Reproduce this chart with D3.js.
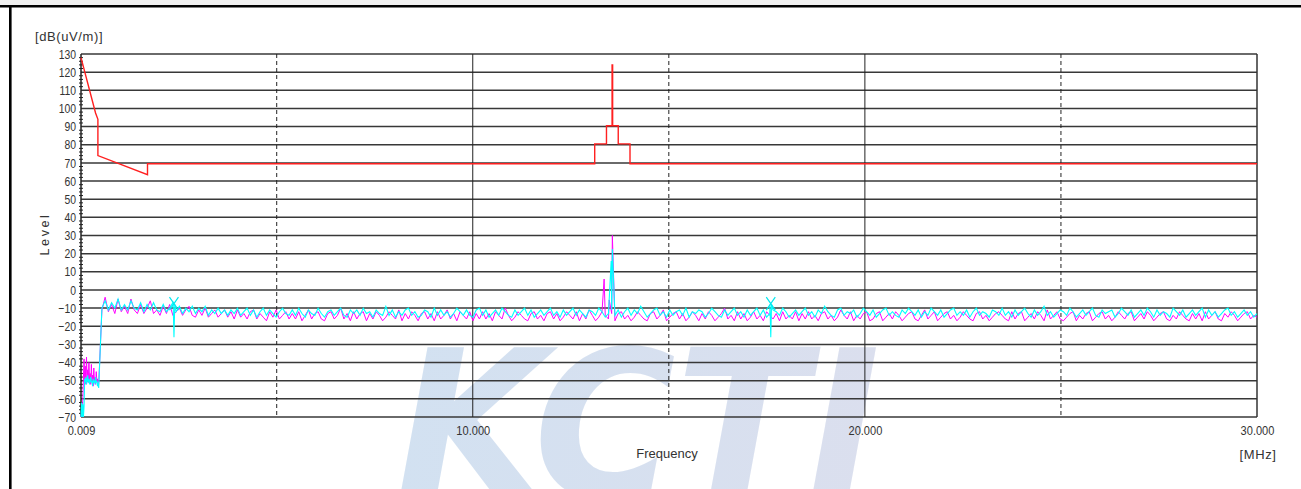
<!DOCTYPE html>
<html>
<head>
<meta charset="utf-8">
<script src="https://cdn.jsdelivr.net/npm/d3@7"></script>
<style>
  body { margin: 0; background: #fff; }
  svg { display: block; font-family: "Liberation Sans Narrow", "Liberation Sans", Arial, sans-serif; }
</style>
</head>
<body>
<svg id="chart" width="1301" height="489"></svg>
<script>
// axis ticks
const yTickValues = [130, 120, 110, 100, 90, 80, 70, 60, 50, 40, 30, 20, 10, 0, -10, -20, -30, -40, -50, -60, -70];
const xTickValues = [0.009, 10, 20, 30];
const xTickLabels = ["0.009", "10.000", "20.000", "30.000"];
const xSolidGrid = [10, 20];
const xDashedGrid = [5, 15, 25];

// limit line (MHz, dB(uV/m))
const limitFreq  = [0.009, 0.38, 0.44, 0.44, 1.705, 1.705, 13.11, 13.11, 13.41, 13.41, 13.553, 13.553, 13.567, 13.567, 13.71, 13.71, 14.01, 14.01, 30];
const limitLevel = [128,   97.5, 94,   74,   63.5,  69.5,  69.5,  80.5,  80.5,  90.5,  90.5,   124,    124,    90.5,   90.5,  80.5,  80.5,  69.5,  69.5];

// sweep bands (MHz)
const lowBand = [0.009, 0.46];
const mainBand = [0.46, 30];

// cyan trace
const cyanLow = [-70,-62,-70,-63,-70,-64,-49,-51,-48,-52,-50,-47,-51,-49,-52,-50,-48,-51,-50,-53,-49,-51,-50,-52,-48,-51,-50,-53,-51,-54];
const cyanMain = [
  -5,-10,-6,-11,-7,-10,-5,-11,-8,-11,-6,-10,-11,-7,-12,-8,-11,-7,-11,-12,
  -8,-12,-10,-7,-12,-9,-13,-10,-12,-9,-13,-10,-12,-9,-14,-11,-13,-10,-13,-11,
  -14,-11,-13,-10,-14,-12,-10,-14,-11,-15,-12,-10,-14,-11,-13,-15,-12,-10,-13,-14,
  -11,-14,-10,-13,-15,-11,-13,-14,-10,-13,-15,-12,-11,-14,-12,-10,-14,-15,-11,-13,
  -11,-14,-10,-13,-12,-15,-11,-13,-14,-9,-14,-11,-15,-12,-14,-11,-10,-14,-12,-15,
  -14,-11,-12,-15,-10,-14,-11,-14,-12,-15,-13,-10,-12,-14,-11,-14,-15,-11,-10,-14,
  -11,-15,-13,-11,-14,-10,-12,-14,-15,-11,-14,-12,-10,-14,-11,-15,-13,-11,-14,-12,
  -10,-14,-12,-15,-11,-14,-12,-10,-14,-11,-13,-15,-11,-12,-14,-10,-12,-15,-13,-11,
  -14,-11,-15,-12,-10,-14,-11,-13,-9,-12,-15,-13,-11,-10,-14,-12,-15,-11,-14,-12,
  -11,-14,-10,-15,-12,-13,-11,-12,-15,-13,-10,-12,-14,-15,-11,-14,-12,-10,-14,-12,
  -15,-11,-14,-12,-10,-14,-11,-15,-13,-11,-12,-14,-10,-12,-15,-13,-11,-14,-12,-10,
  -14,-12,-15,-11,-13,-9,-12,-14,-15,-11,-10,-14,-12,-13,-11,-15,-13,-10,-12,-14,
  -11,-15,-13,-11,-10,-14,-12,-14,-15,-11,-13,-10,-12,-14,-11,-15,-12,-14,-10,-12,
  -14,-11,-15,-13,-11,-10,-14,-12,-14,-11,-15,-12,-10,-14,-12,-13,-15,-11,-12,-14,
  -10,-14,-12,-15,-11,-14,-12,-10,-13,-15,-11,-14,-12,-9,-14,-12,-15,-13,-11,-12,
  -14,-10,-12,-15,-13,-11,-14,-12,-10,-14,-15,-11,-13,-12,-11,-15,-13,-10,-12,-14,
  -11,-15,-13,-11,-14,-10,-12,-15,-11,-14,-12,-13,-15,-10,-12,-14,-11,-15,-13,-11,
  -14,-12,-10,-15,-11,-14,-12,-15,-13,-11,-10,-14,-12,-15,-13,-11,-14,-12,-15,-13
];
const cyanSpikes = [[2.36, -8], [2.38, -26], [2.40, -8], [13.53, 16], [13.56, 22.5], [17.58, -8], [17.60, -26], [17.62, -8]];

// magenta trace
const magentaLow = [-70,-66,-70,-60,-48,-38,-50,-42,-52,-37,-49,-44,-51,-40,-50,-46,-52,-41,-50,-47,-53,-43,-51,-48,-52,-45,-50,-49,-53,-52];
const magentaMain = [
  -6,-11,-4,-12,-8,-13,-5,-12,-9,-13,-5,-11,-13,-8,-13,-10,-6,-13,-11,-14,
  -9,-13,-8,-14,-12,-10,-14,-11,-9,-14,-15,-11,-14,-10,-15,-13,-11,-15,-13,-11,
  -15,-12,-16,-11,-15,-13,-16,-12,-11,-16,-13,-15,-17,-12,-15,-11,-16,-14,-12,-16,
  -13,-16,-12,-17,-14,-11,-16,-13,-12,-16,-17,-13,-12,-16,-14,-10,-16,-13,-17,-12,
  -16,-13,-12,-17,-13,-16,-12,-14,-17,-15,-12,-14,-16,-11,-17,-13,-16,-12,-14,-17,
  -13,-12,-16,-13,-17,-12,-16,-14,-11,-16,-13,-17,-12,-14,-16,-12,-17,-13,-16,-12,
  -16,-13,-17,-12,-14,-16,-10,-14,-17,-15,-12,-14,-16,-17,-13,-12,-16,-14,-17,-13,
  -12,-16,-13,-17,-15,-12,-14,-16,-12,-17,-13,-16,-11,-14,-17,-15,-12,-14,-16,-13,
  -17,-13,-12,-16,-14,-17,-15,-12,-14,-16,-17,-13,-12,-16,-14,-11,-17,-15,-13,-12,
  -16,-13,-17,-15,-12,-14,-17,-13,-16,-12,-14,-17,-15,-13,-10,-16,-14,-17,-12,-16,
  -13,-17,-15,-12,-16,-14,-17,-12,-14,-16,-13,-17,-12,-16,-14,-16,-12,-17,-13,-16,
  -12,-16,-14,-17,-13,-12,-16,-14,-17,-15,-11,-14,-16,-12,-17,-14,-16,-13,-12,-17,
  -16,-13,-12,-17,-15,-13,-16,-12,-14,-17,-15,-13,-12,-16,-17,-14,-11,-16,-14,-12,
  -17,-15,-13,-12,-16,-14,-17,-15,-12,-14,-16,-17,-13,-12,-16,-14,-17,-15,-13,-12,
  -14,-16,-17,-12,-16,-13,-12,-17,-15,-13,-16,-12,-14,-17,-11,-16,-14,-12,-16,-17,
  -15,-13,-12,-17,-14,-16,-13,-12,-17,-15,-13,-12,-16,-14,-17,-15,-12,-14,-16,-13,
  -12,-17,-15,-13,-16,-12,-14,-17,-15,-13,-12,-16,-17,-14,-16,-12,-14,-16,-17,-13,
  -16,-13,-17,-12,-16,-14,-12,-16,-17,-13,-15,-12,-14,-17,-15,-13,-12,-16,-14,-15
];
const magentaSpikes = [[13.35, 6], [13.48, -5.5], [13.56, 30]];

// markers
const markerFreq = [2.38, 17.60];
const markerLevel = [-7.5, -7.5];

const svg = d3.select("#chart");
const x = d3.scaleLinear().domain([0.009, 30]).range([81, 1257]);
const y = d3.scaleLinear().domain([-70, 130]).range([417, 54]);

// frame
svg.append("rect").attr("x", 0).attr("y", 0).attr("width", 1301).attr("height", 5).attr("fill", "#f0f0f0");
svg.append("rect").attr("x", 0).attr("y", 5).attr("width", 1301).attr("height", 2.5).attr("fill", "#000");
svg.append("rect").attr("x", 9).attr("y", 5).attr("width", 2.6).attr("height", 484).attr("fill", "#000");

// watermark
const grad = svg.append("defs").append("linearGradient").attr("id", "wm").attr("x1", "0").attr("x2", "1");
grad.append("stop").attr("offset", "0").attr("stop-color", "#d2e1f1");
grad.append("stop").attr("offset", "1").attr("stop-color", "#dbdfee");
svg.append("text")
  .attr("x", 396).attr("y", 497)
  .attr("font-family", "DejaVu Sans, Liberation Sans, sans-serif")
  .attr("font-size", 205).attr("font-weight", "bold").attr("font-style", "italic")
  .attr("textLength", 484).attr("lengthAdjust", "spacingAndGlyphs")
  .attr("fill", "url(#wm)")
  .text("KCTI");

// grid
const grid = svg.append("g");
grid.selectAll(".hg").data(yTickValues).enter().append("line")
  .attr("x1", x(0.009)).attr("x2", x(30))
  .attr("y1", d => y(d)).attr("y2", d => y(d))
  .attr("stroke", "#383838").attr("stroke-width", 1.5);
grid.selectAll(".vs").data(xSolidGrid).enter().append("line")
  .attr("x1", d => x(d)).attr("x2", d => x(d))
  .attr("y1", y(130)).attr("y2", y(-70))
  .attr("stroke", "#222").attr("stroke-width", 1);
grid.selectAll(".vd").data(xDashedGrid).enter().append("line")
  .attr("x1", d => x(d)).attr("x2", d => x(d))
  .attr("y1", y(130)).attr("y2", y(-70))
  .attr("stroke", "#222").attr("stroke-width", 1).attr("stroke-dasharray", "4,3");
grid.append("line").attr("x1", x(30)).attr("x2", x(30)).attr("y1", y(130)).attr("y2", y(-70))
  .attr("stroke", "#333").attr("stroke-width", 1.5);
grid.append("line").attr("x1", x(0.009)).attr("x2", x(0.009)).attr("y1", y(130)).attr("y2", y(-70))
  .attr("stroke", "#222").attr("stroke-width", 1.5);

// minor ticks on level axis
grid.selectAll(".mt").data(d3.range(-68, 130, 2).filter(d => d % 10 !== 0)).enter().append("line")
  .attr("x1", x(0.009) - 2).attr("x2", x(0.009) + 2)
  .attr("y1", d => y(d)).attr("y2", d => y(d))
  .attr("stroke", "#222").attr("stroke-width", 1);

// limit line
const line = d3.line().x(d => x(d[0])).y(d => y(d[1]));
svg.append("path")
  .datum(limitFreq.map((f, i) => [f, limitLevel[i]]))
  .attr("d", line).attr("fill", "none").attr("stroke", "#ff2020").attr("stroke-width", 1.4);

// traces
function sweep(band, vals) {
  const step = (band[1] - band[0]) / (vals.length - 1);
  return vals.map((v, i) => [band[0] + i * step, v]);
}
function trace(low, main, spikes) {
  return sweep(lowBand, low).concat(sweep(mainBand, main).slice(1), spikes)
    .sort((a, b) => a[0] - b[0]);
}
svg.append("path").datum(trace(magentaLow, magentaMain, magentaSpikes))
  .attr("d", line).attr("fill", "none").attr("stroke", "#ff00ff").attr("stroke-width", 1);
svg.append("path").datum(trace(cyanLow, cyanMain, cyanSpikes))
  .attr("d", line).attr("fill", "none").attr("stroke", "#00ffff").attr("stroke-width", 1.1);

// markers
svg.selectAll(".mk").data(markerFreq).enter().append("path")
  .attr("d", (d, i) => {
    const cx = x(d), cy = y(markerLevel[i]);
    return `M${cx - 4.5},${cy - 6.5}L${cx + 4.5},${cy + 6.5}M${cx + 4.5},${cy - 6.5}L${cx - 4.5},${cy + 6.5}`;
  })
  .attr("stroke", "#00e8f0").attr("stroke-width", 1.2).attr("fill", "none");

// axes labels
function condense(sel, k) {
  sel.each(function() {
    const w = this.getComputedTextLength();
    d3.select(this).attr("textLength", w * k).attr("lengthAdjust", "spacingAndGlyphs");
  });
}
const yAxis = svg.append("g").attr("transform", `translate(${x(0.009)},0)`)
  .call(d3.axisLeft(y).tickValues(yTickValues).tickSize(0).tickPadding(5));
yAxis.select(".domain").remove();
yAxis.selectAll("text").attr("font-size", 13).attr("fill", "#333")
  .attr("font-family", "Liberation Sans Narrow, Liberation Sans, Arial, sans-serif");
condense(yAxis.selectAll("text"), 0.8);

const xAxis = svg.append("g").attr("transform", `translate(0,${y(-70)})`)
  .call(d3.axisBottom(x).tickValues(xTickValues).tickFormat((d, i) => xTickLabels[i]).tickSize(0).tickPadding(9));
xAxis.select(".domain").remove();
xAxis.selectAll("text").attr("font-size", 13).attr("fill", "#333")
  .attr("font-family", "Liberation Sans Narrow, Liberation Sans, Arial, sans-serif");
condense(xAxis.selectAll("text"), 0.85);

svg.append("text").attr("x", 35).attr("y", 41).attr("font-size", 13).attr("fill", "#333")
  .attr("letter-spacing", 0.6).text("[dB(uV/m)]");
svg.append("text").attr("transform", "translate(49,234) rotate(-90)").attr("text-anchor", "middle")
  .attr("font-size", 12.5).attr("fill", "#333").attr("letter-spacing", 2.6).text("Level");
svg.append("text").attr("x", 667).attr("y", 458).attr("text-anchor", "middle")
  .attr("font-size", 13).attr("fill", "#333").text("Frequency");
svg.append("text").attr("x", 1258).attr("y", 459).attr("text-anchor", "middle")
  .attr("font-size", 13).attr("fill", "#333").attr("letter-spacing", 0.6).text("[MHz]");
</script>
</body>
</html>
